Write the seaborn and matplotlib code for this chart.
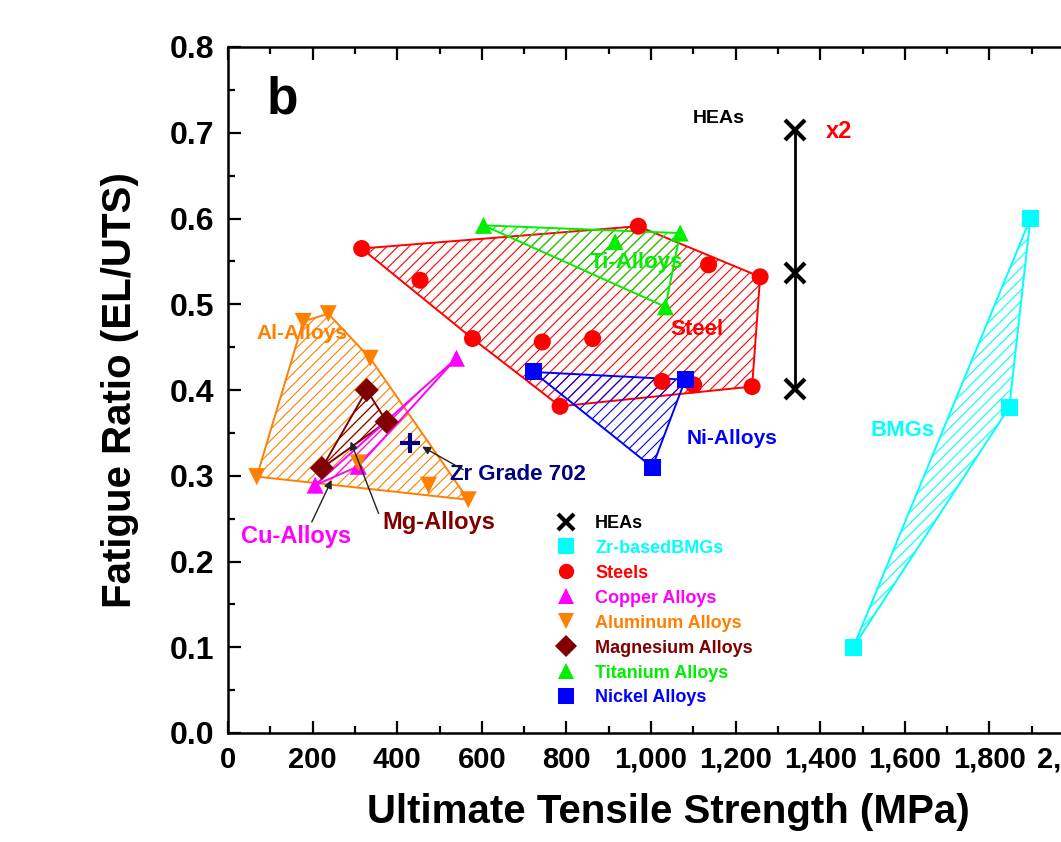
import matplotlib
matplotlib.use("Agg")
import matplotlib.pyplot as plt
from matplotlib.lines import Line2D
from matplotlib.ticker import MultipleLocator, FuncFormatter
import pandas as pd
import seaborn as sns

# ---- Ultimate tensile strength (MPa) and fatigue ratio (EL/UTS) ----
hea_uts = [1340, 1340, 1340]
hea_ratio = [0.703, 0.537, 0.401]

bmg_uts = [1897, 1847, 1478]
bmg_ratio = [0.600, 0.380, 0.100]

steel_uts = [316, 454, 578, 743, 862, 970, 1136, 1258, 1239, 1026, 1101, 785]
steel_ratio = [0.565, 0.528, 0.460, 0.456, 0.460, 0.591, 0.546, 0.532,
               0.404, 0.410, 0.406, 0.381]

cu_uts = [206, 308, 540]
cu_ratio = [0.289, 0.311, 0.437]

al_uts = [68, 178, 237, 336, 308, 474, 568]
al_ratio = [0.299, 0.480, 0.489, 0.437, 0.315, 0.289, 0.272]

mg_uts = [222, 328, 375]
mg_ratio = [0.309, 0.400, 0.363]

ti_uts = [604, 915, 1069, 1034]
ti_ratio = [0.592, 0.573, 0.583, 0.497]

ni_uts = [722, 1081, 1003]
ni_ratio = [0.421, 0.412, 0.310]

zr702_uts = [430]
zr702_ratio = [0.338]

legend_names = ["HEAs", "Zr-basedBMGs", "Steels", "Copper Alloys",
                "Aluminum Alloys", "Magnesium Alloys", "Titanium Alloys",
                "Nickel Alloys"]
x_ticks = list(range(0, 2001, 200))
y_ticks = [round(0.1 * i, 1) for i in range(9)]

colors = {
    "HEAs": "#000000",
    "Zr-basedBMGs": "#00FFFF",
    "Steels": "#FF0000",
    "Copper Alloys": "#FF00FF",
    "Aluminum Alloys": "#FF8000",
    "Magnesium Alloys": "#800000",
    "Titanium Alloys": "#00EE00",
    "Nickel Alloys": "#0000FF",
}
markers = {
    "HEAs": "x",
    "Zr-basedBMGs": "s",
    "Steels": "o",
    "Copper Alloys": "^",
    "Aluminum Alloys": "v",
    "Magnesium Alloys": "D",
    "Titanium Alloys": "^",
    "Nickel Alloys": "s",
}
navy = "#000080"

groups = {
    "Zr-basedBMGs": (bmg_uts, bmg_ratio),
    "Steels": (steel_uts, steel_ratio),
    "Copper Alloys": (cu_uts, cu_ratio),
    "Aluminum Alloys": (al_uts, al_ratio),
    "Magnesium Alloys": (mg_uts, mg_ratio),
    "Titanium Alloys": (ti_uts, ti_ratio),
    "Nickel Alloys": (ni_uts, ni_ratio),
}

rows = []
for name, (xs, ys) in groups.items():
    for xv, yv in zip(xs, ys):
        rows.append({"UTS": xv, "Ratio": yv, "Alloy": name})
df = pd.DataFrame(rows)


def convex_hull(xs, ys):
    pts = sorted(set(zip(xs, ys)))
    if len(pts) < 3:
        return pts

    def cross(o, a, b):
        return (a[0] - o[0]) * (b[1] - o[1]) - (a[1] - o[1]) * (b[0] - o[0])

    lower, upper = [], []
    for p in pts:
        while len(lower) >= 2 and cross(lower[-2], lower[-1], p) <= 0:
            lower.pop()
        lower.append(p)
    for p in reversed(pts):
        while len(upper) >= 2 and cross(upper[-2], upper[-1], p) <= 0:
            upper.pop()
        upper.append(p)
    return lower[:-1] + upper[:-1]


sns.set_theme(style="ticks")
plt.rcParams["font.family"] = ["Liberation Sans", "DejaVu Sans"]
plt.rcParams["font.weight"] = "bold"
plt.rcParams["hatch.linewidth"] = 0.8
plt.rcParams["text.color"] = "black"
plt.rcParams["axes.labelcolor"] = "black"
plt.rcParams["xtick.color"] = "black"
plt.rcParams["ytick.color"] = "black"
plt.rcParams["axes.edgecolor"] = "black"

fig = plt.figure(figsize=(10.61, 8.42), dpi=100)
fig.patch.set_facecolor("white")
# the frame runs past the right edge of the canvas
ax = fig.add_axes([228 / 1061, 109 / 842, 846 / 1061, 686 / 842])
ax.set_facecolor("white")

# hatched envelopes around each alloy family
poly_z = {"Aluminum Alloys": 1, "Steels": 1, "Zr-basedBMGs": 1,
          "Magnesium Alloys": 2, "Titanium Alloys": 2, "Nickel Alloys": 2,
          "Copper Alloys": 3}
for name, (xs, ys) in groups.items():
    hull = convex_hull(xs, ys)
    hx = [p[0] for p in hull]
    hy = [p[1] for p in hull]
    ax.fill(hx, hy, facecolor="none", edgecolor=colors[name], hatch="///",
            linewidth=1.4, zorder=poly_z[name])

sns.scatterplot(data=df, x="UTS", y="Ratio", hue="Alloy", style="Alloy",
                palette={k: colors[k] for k in groups},
                markers={k: markers[k] for k in groups},
                s=150, linewidth=0, legend=False, ax=ax, zorder=5)

# HEAs: range bar with markers
sns.lineplot(x=hea_uts, y=hea_ratio, estimator=None, sort=False, ax=ax,
             color="black", linewidth=2, marker="x", markersize=14,
             markeredgewidth=3, markeredgecolor="black", zorder=6)

# Zr Grade 702
sns.scatterplot(x=zr702_uts, y=zr702_ratio, marker="+", s=200, color=navy,
                linewidth=3, legend=False, ax=ax, zorder=6)

# axes styling
ax.set_xlim(0, 2000)
ax.set_ylim(0, 0.8)
ax.set_xticks(x_ticks)
ax.set_yticks(y_ticks)
ax.xaxis.set_minor_locator(MultipleLocator(100))
ax.yaxis.set_minor_locator(MultipleLocator(0.05))
ax.xaxis.set_major_formatter(FuncFormatter(lambda v, p: f"{int(round(v)):,}"))
ax.yaxis.set_major_formatter(FuncFormatter(lambda v, p: f"{v:.1f}"))
ax.tick_params(which="both", direction="in", top=True, right=True,
               width=1.6, colors="black")
ax.tick_params(which="major", length=9)
ax.tick_params(which="minor", length=5)
ax.tick_params(axis="x", which="major", labelsize=21, pad=9)
ax.tick_params(axis="y", which="major", labelsize=23, pad=10)
for lab in ax.get_xticklabels() + ax.get_yticklabels():
    lab.set_fontweight("bold")
for sp in ax.spines.values():
    sp.set_linewidth(1.8)
    sp.set_color("black")

ax.set_xlabel("Ultimate Tensile Strength (MPa)", fontsize=29,
              fontweight="bold", color="black")
ax.set_ylabel("Fatigue Ratio (EL/UTS)", fontsize=29, fontweight="bold",
              color="black")
ax.xaxis.set_label_coords(0.52, -0.088)
ax.yaxis.set_label_coords(-0.105, 0.5)

# annotations
ax.text(128, 0.738, "b", fontsize=37, fontweight="bold", ha="center",
        va="center", color="black")
ax.text(1161, 0.717, "HEAs", fontsize=14, fontweight="bold", ha="center",
        va="center", color="black")
ax.text(1445, 0.701, "x2", fontsize=17, fontweight="bold", ha="center",
        va="center", color="#FF0000")
ax.text(175, 0.466, "Al-Alloys", fontsize=15, fontweight="bold",
        ha="center", va="center", color=colors["Aluminum Alloys"], zorder=7)
ax.text(161, 0.229, "Cu-Alloys", fontsize=17, fontweight="bold",
        ha="center", va="center", color=colors["Copper Alloys"])
ax.text(499, 0.245, "Mg-Alloys", fontsize=17, fontweight="bold",
        ha="center", va="center", color=colors["Magnesium Alloys"])
ax.text(965, 0.549, "Ti-Alloys", fontsize=16, fontweight="bold",
        ha="center", va="center", color=colors["Titanium Alloys"], zorder=7)
ax.text(1109, 0.470, "Steel", fontsize=16, fontweight="bold",
        ha="center", va="center", color=colors["Steels"])
ax.text(1192, 0.344, "Ni-Alloys", fontsize=15, fontweight="bold",
        ha="center", va="center", color=colors["Nickel Alloys"])
ax.text(1594, 0.353, "BMGs", fontsize=16, fontweight="bold",
        ha="center", va="center", color=colors["Zr-basedBMGs"])
ax.text(686, 0.301, "Zr Grade 702", fontsize=16, fontweight="bold",
        ha="center", va="center", color=navy)

arrow_kw = dict(arrowstyle="-|>", color="#222222", lw=1.0, mutation_scale=12,
                shrinkA=0, shrinkB=0)
ax.annotate("", xy=(245, 0.295), xytext=(198, 0.246), arrowprops=arrow_kw,
            zorder=7)
ax.annotate("", xy=(290, 0.340), xytext=(356, 0.256), arrowprops=arrow_kw,
            zorder=7)
ax.annotate("", xy=(459, 0.334), xytext=(556, 0.307), arrowprops=arrow_kw,
            zorder=7)

# legend with coloured labels
handles = []
for name in legend_names:
    if name == "HEAs":
        h = Line2D([], [], linestyle="none", marker="x", color="black",
                   markersize=12, markeredgewidth=3)
    else:
        h = Line2D([], [], linestyle="none", marker=markers[name],
                   color=colors[name], markeredgewidth=0, markersize=11)
    handles.append(h)
leg = ax.legend(handles, legend_names, loc="upper left",
                bbox_to_anchor=(0.389, 0.318), frameon=False,
                prop={"weight": "bold", "size": 13}, handlelength=1.0,
                handletextpad=1.1, labelspacing=0.44, borderpad=0,
                borderaxespad=0)
for txt, name in zip(leg.get_texts(), legend_names):
    txt.set_color(colors[name])

fig.savefig("out.png", dpi=100, facecolor="white")
